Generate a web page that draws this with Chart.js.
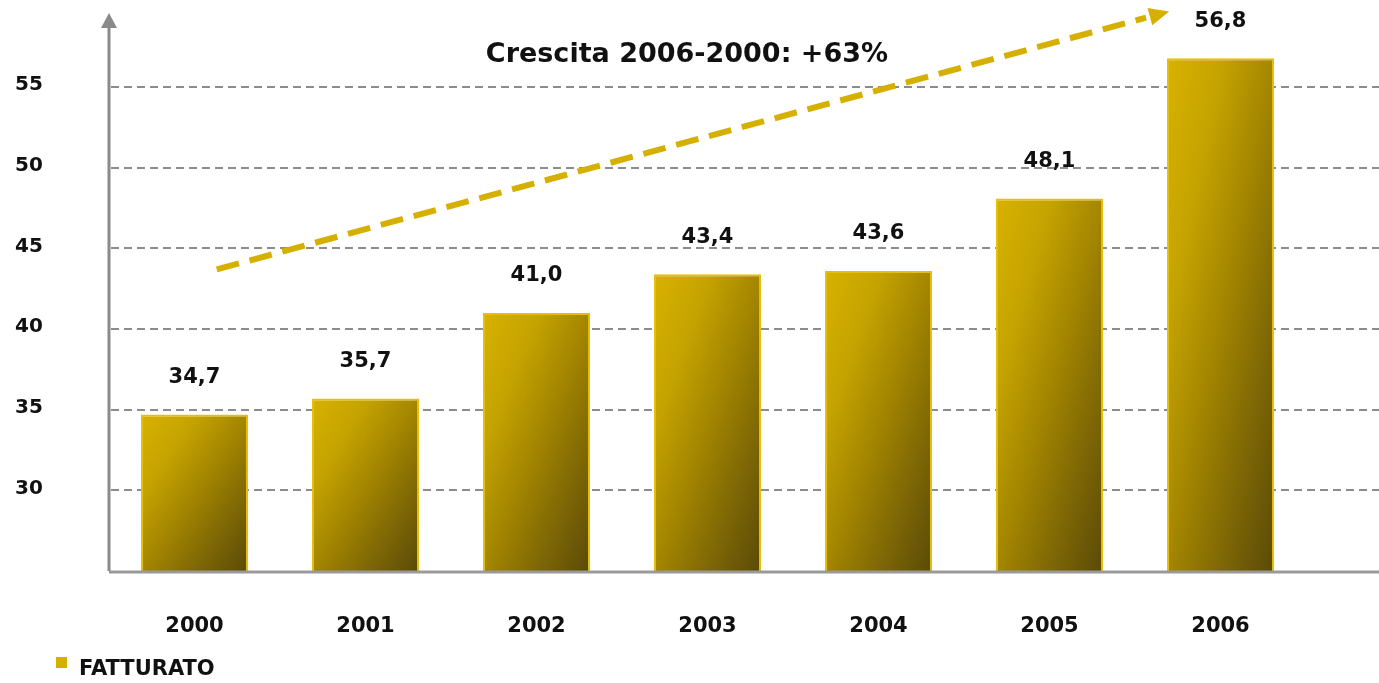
<!DOCTYPE html>
<html>
<head>
<meta charset="utf-8">
<script src="https://cdn.jsdelivr.net/npm/chart.js@4.4.1/dist/chart.umd.min.js"></script>
<style>
  html, body { margin: 0; padding: 0; background: #fff; }
  #wrap { width: 1379px; height: 683px; }
</style>
</head>
<body>
<div id="wrap"><canvas id="myChart" width="1379" height="683"></canvas></div>
<script>
// data
const anni = ['2000', '2001', '2002', '2003', '2004', '2005', '2006'];
const fatturato = [34.7, 35.7, 41.0, 43.4, 43.6, 48.1, 56.8];
const yTicks = [30, 35, 40, 45, 50, 55];
const serieLabel = 'FATTURATO';
const crescitaText = 'Crescita 2006-2000: +63%';

const FONT = "'DejaVu Sans', Verdana, sans-serif";
const GOLD = '#d6b000';
const BAR_PCT = 0.626;

// diagonal gold -> dark olive gradient, normalised to each bar's box
function barGradient(ctx) {
  const chart = ctx.chart;
  const {chartArea, scales} = chart;
  if (!chartArea || ctx.type !== 'data') return GOLD;
  const xs = scales.x, ys = scales.y;
  const w = xs.width / anni.length * BAR_PCT;
  const left = xs.getPixelForValue(ctx.dataIndex) - w / 2;
  const top = ys.getPixelForValue(ctx.raw);
  const h = Math.max(ys.bottom - top, 1);
  const s = 2 / (1 / (w * w) + 1 / (h * h));
  const g = chart.ctx.createLinearGradient(left, top, left + s / w, top + s / h);
  g.addColorStop(0, '#d8b200');
  g.addColorStop(0.25, '#c6a400');
  g.addColorStop(0.5, '#a48600');
  g.addColorStop(0.75, '#7e6705');
  g.addColorStop(1, '#5a4a08');
  return g;
}

// dashed grid, axis lines with arrow, value labels, trend arrow, legend
const decorations = {
  id: 'decorations',
  beforeDatasetsDraw(chart) {
    const {ctx, chartArea: {left}, scales: {y}} = chart;
    const right = chart.width;
    ctx.save();
    ctx.strokeStyle = '#8c8c8c';
    ctx.lineWidth = 2;
    ctx.setLineDash([8, 5]);
    yTicks.forEach(v => {
      const py = Math.round(y.getPixelForValue(v));
      ctx.beginPath();
      ctx.moveTo(left + 2, py);
      ctx.lineTo(right, py);
      ctx.stroke();
    });
    ctx.restore();
  },
  afterDatasetsDraw(chart) {
    const {ctx, chartArea: {left, top, bottom}, scales: {x, y}} = chart;
    const right = chart.width;
    ctx.save();

    // baseline
    ctx.strokeStyle = '#9a9a9a';
    ctx.lineWidth = 3;
    ctx.beginPath();
    ctx.moveTo(left, bottom + 1);
    ctx.lineTo(right, bottom + 1);
    ctx.stroke();

    // y axis with arrow head
    ctx.strokeStyle = '#8a8a8a';
    ctx.beginPath();
    ctx.moveTo(left, bottom);
    ctx.lineTo(left, top + 14);
    ctx.stroke();
    ctx.fillStyle = '#8a8a8a';
    ctx.beginPath();
    ctx.moveTo(left, top);
    ctx.lineTo(left - 8, top + 15);
    ctx.lineTo(left + 8, top + 15);
    ctx.closePath();
    ctx.fill();

    // value labels
    ctx.fillStyle = '#111';
    ctx.font = `bold 21px ${FONT}`;
    ctx.textAlign = 'center';
    ctx.textBaseline = 'middle';
    chart.getDatasetMeta(0).data.forEach((bar, i) => {
      ctx.fillText(fatturato[i].toFixed(1).replace('.', ','), bar.x, bar.y - 37);
    });

    // growth arrow
    const x0 = x.getPixelForValue(0.13), y0 = y.getPixelForValue(43.7);
    const x1 = x.getPixelForValue(5.7), y1 = y.getPixelForValue(59.7);
    const ang = Math.atan2(y1 - y0, x1 - x0);
    const head = 20;
    ctx.strokeStyle = GOLD;
    ctx.fillStyle = GOLD;
    ctx.lineWidth = 6;
    ctx.setLineDash([23, 11]);
    ctx.beginPath();
    ctx.moveTo(x0, y0);
    ctx.lineTo(x1 - Math.cos(ang) * (head + 4), y1 - Math.sin(ang) * (head + 4));
    ctx.stroke();
    ctx.setLineDash([]);
    ctx.beginPath();
    ctx.moveTo(x1, y1);
    ctx.lineTo(x1 - Math.cos(ang) * head - Math.sin(ang) * 9, y1 - Math.sin(ang) * head + Math.cos(ang) * 9);
    ctx.lineTo(x1 - Math.cos(ang) * head + Math.sin(ang) * 9, y1 - Math.sin(ang) * head - Math.cos(ang) * 9);
    ctx.closePath();
    ctx.fill();

    // growth caption
    ctx.fillStyle = '#111';
    ctx.font = `bold 27px ${FONT}`;
    ctx.fillText(crescitaText, x.getPixelForValue(2.88), y.getPixelForValue(57.0));

    // legend
    ctx.fillStyle = GOLD;
    ctx.fillRect(56, 657, 11, 11);
    ctx.fillStyle = '#111';
    ctx.font = `bold 21px ${FONT}`;
    ctx.textAlign = 'left';
    ctx.fillText(chart.data.datasets[0].label, 79, 670);
    ctx.restore();
  }
};

const data = {
  labels: anni,
  datasets: [{
    label: serieLabel,
    data: fatturato,
    backgroundColor: barGradient,
    borderColor: '#e4c00c',
    borderWidth: 2,
    borderSkipped: false,
    barPercentage: BAR_PCT,
    categoryPercentage: 1
  }]
};

const options = {
  responsive: false,
  animation: false,
  layout: { padding: { left: 15, top: 10, right: 73, bottom: 45 } },
  plugins: {
    legend: { display: false },
    tooltip: { enabled: false }
  },
  scales: {
    x: {
      afterFit(scale) {
        scale.height = 67;
      },
      grid: { display: false, drawTicks: false },
      border: { display: false },
      ticks: {
        padding: 43,
        color: '#111',
        font: { family: FONT, size: 21, weight: 'bold' }
      }
    },
    y: {
      min: 25,
      max: 59.6,
      afterBuildTicks(scale) {
        scale.ticks = yTicks.map(v => ({ value: v }));
      },
      afterFit(scale) {
        scale.width = 94;
      },
      grid: { display: false, drawTicks: false },
      border: { display: false },
      ticks: {
        crossAlign: 'far',
        labelOffset: -2,
        color: '#111',
        font: { family: FONT, size: 20, weight: 'bold', lineHeight: 1 }
      }
    }
  }
};

const myChart = new Chart(document.getElementById('myChart'), {
  type: 'bar',
  data,
  options,
  plugins: [decorations]
});
</script>
</body>
</html>
